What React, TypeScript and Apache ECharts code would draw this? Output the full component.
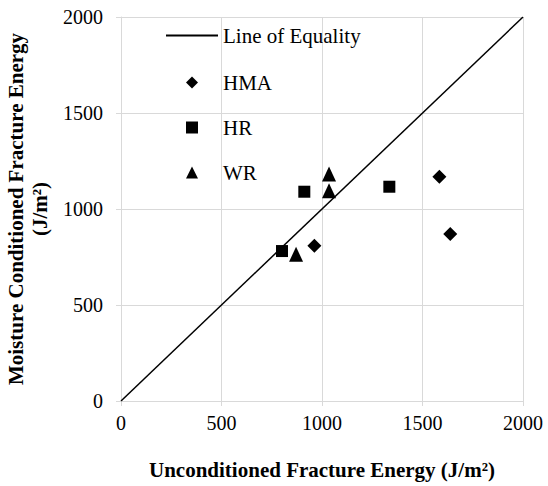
import React, { useEffect, useRef } from "react";
import * as echarts from "echarts";

const equalityLine: [number, number][] = [[0, 0], [2000, 2000]];
const hmaPoints: [number, number][] = [[962, 809], [1584, 1168], [1638, 870]];
const hrPoints: [number, number][] = [[801, 781], [912, 1090], [1335, 1116]];
const wrPoints: [number, number][] = [[871, 764], [1035, 1182], [1035, 1095]];
const seriesNames = ["Line of Equality", "HMA", "HR", "WR"];
const xTitle = "Unconditioned Fracture Energy (J/m²)";
const yTitle = "Moisture Conditioned Fracture Energy\n(J/m²)";

const FONT = "'Liberation Serif', 'Times New Roman', serif";

export default function App() {
  const ref = useRef<HTMLDivElement>(null);
  useEffect(() => {
    if (!ref.current) return;
    const chart = echarts.init(ref.current, null, { renderer: "svg" });
    const grey = "#d9d9d9";
    const legendText = { fontFamily: FONT, fontSize: 21, color: "#000" };
    const axisLabel = (margin: number) => ({
      fontFamily: FONT,
      fontSize: 20,
      color: "#000",
      margin,
      formatter: (v: number) => String(v),
    });
    chart.setOption({
      animation: false,
      textStyle: { fontFamily: FONT, color: "#000" },
      grid: { left: 121, right: 25, top: 17, bottom: 85, outerBoundsMode: "none", containLabel: false },
      legend: [
        {
          orient: "vertical",
          left: 166,
          top: 25,
          padding: 0,
          itemWidth: 52,
          itemHeight: 2,
          data: [{ name: seriesNames[0], icon: "rect" }],
          textStyle: legendText,
        },
        {
          orient: "vertical",
          left: 186,
          top: 72,
          padding: 0,
          itemWidth: 12,
          itemHeight: 12,
          itemGap: 24,
          data: [
            { name: seriesNames[1], icon: "diamond" },
            { name: seriesNames[2], icon: "rect" },
            { name: seriesNames[3], icon: "triangle" },
          ],
          textStyle: { ...legendText, padding: [0, 0, 0, 20] },
        },
      ],
      xAxis: {
        type: "value",
        min: 0,
        max: 2000,
        interval: 500,
        name: xTitle,
        nameLocation: "middle",
        nameGap: 58,
        nameTextStyle: { fontFamily: FONT, fontSize: 21, fontWeight: "bold", color: "#000" },
        axisLine: { show: true, lineStyle: { color: grey } },
        axisTick: { show: true, length: 5, lineStyle: { color: grey } },
        axisLabel: axisLabel(12),
        splitLine: { show: true, lineStyle: { color: grey, width: 1 } },
      },
      yAxis: {
        type: "value",
        min: 0,
        max: 2000,
        interval: 500,
        name: yTitle,
        nameLocation: "middle",
        nameRotate: 90,
        nameGap: 63,
        nameTextStyle: { fontFamily: FONT, fontSize: 21, fontWeight: "bold", color: "#000", lineHeight: 24 },
        axisLine: { show: true, lineStyle: { color: grey } },
        axisTick: { show: true, length: 5, lineStyle: { color: grey } },
        axisLabel: axisLabel(18),
        splitLine: { show: true, lineStyle: { color: grey, width: 1 } },
      },
      series: [
        {
          name: seriesNames[0],
          type: "line",
          data: equalityLine,
          symbol: "none",
          lineStyle: { color: "#000", width: 1.5 },
          itemStyle: { color: "#000" },
        },
        {
          name: seriesNames[1],
          type: "scatter",
          data: hmaPoints,
          symbol: "diamond",
          symbolSize: 14,
          itemStyle: { color: "#000", opacity: 1 },
        },
        {
          name: seriesNames[2],
          type: "scatter",
          data: hrPoints,
          symbol: "rect",
          symbolSize: 12,
          itemStyle: { color: "#000", opacity: 1 },
        },
        {
          name: seriesNames[3],
          type: "scatter",
          data: wrPoints,
          symbol: "triangle",
          symbolSize: [14, 15],
          itemStyle: { color: "#000", opacity: 1 },
        },
      ],
    });
    return () => chart.dispose();
  }, []);
  return <div ref={ref} style={{ width: 548, height: 486, position: "absolute", left: 0, top: 0 }} />;
}
